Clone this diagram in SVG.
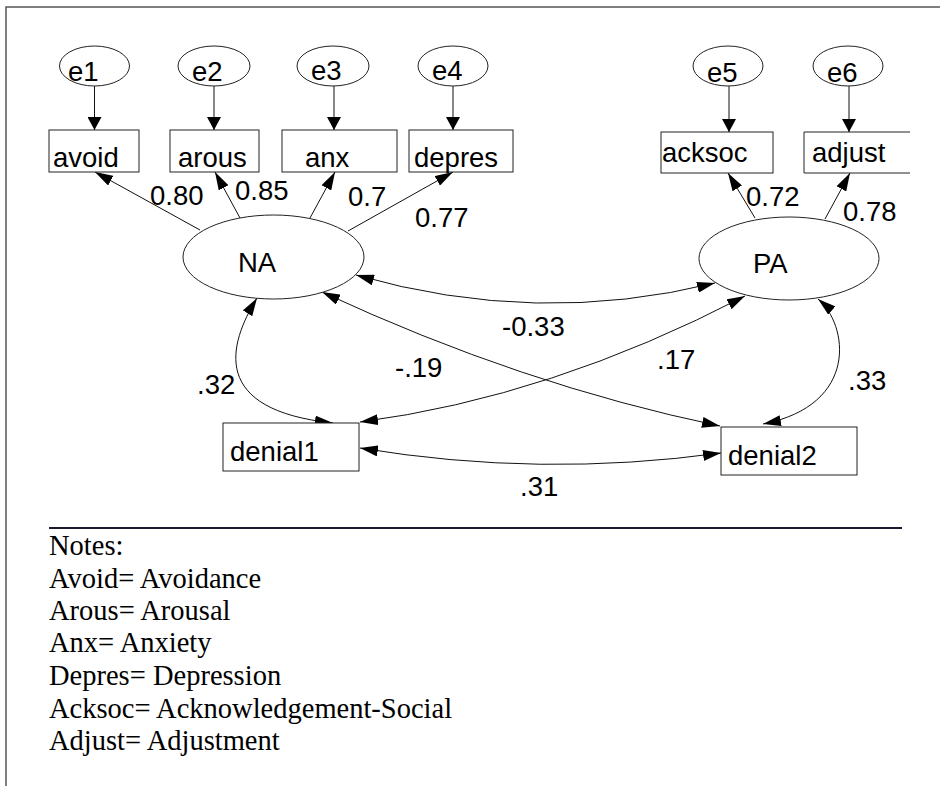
<svg xmlns="http://www.w3.org/2000/svg" width="949" height="786" viewBox="0 0 949 786">
<style>
.nd{fill:#fff;stroke:#222;stroke-width:1}
.t{font-family:"Liberation Sans",Arial,sans-serif;font-size:27.5px;fill:#000}
.n{font-family:"Liberation Serif","Times New Roman",serif;font-size:28.5px;fill:#000}
.c{fill:none;stroke:#111;stroke-width:1}
</style>
<defs>
<marker id="av" markerUnits="userSpaceOnUse" markerWidth="13" markerHeight="14" viewBox="0 0 13 14" refX="13" refY="7" orient="auto"><path d="M0,0 L13,7 L0,14 z" fill="#000"/></marker>
<marker id="ad" markerUnits="userSpaceOnUse" markerWidth="18" markerHeight="11" viewBox="0 0 18 11" refX="18" refY="5.5" orient="auto-start-reverse"><path d="M0,0 L18,5.5 L0,11 z" fill="#000"/></marker>
</defs>
<rect width="949" height="786" fill="#fff"/>
<g id="frame">
<path d="M6,786 V7 H940" fill="none" stroke="#555" stroke-width="1.5"/>
</g>
<g id="connectors">
<path class="c" d="M94.5,86 V130" marker-end="url(#av)"/>
<path class="c" d="M214,86 V130" marker-end="url(#av)"/>
<path class="c" d="M334,86 V130" marker-end="url(#av)"/>
<path class="c" d="M453,86 V130" marker-end="url(#av)"/>
<path class="c" d="M729,86 V132" marker-end="url(#av)"/>
<path class="c" d="M849,86 V132" marker-end="url(#av)"/>
<path class="c" d="M200,230 L95,172" marker-end="url(#ad)"/>
<path class="c" d="M240,218 L215,172" marker-end="url(#ad)"/>
<path class="c" d="M310,218 L335,172" marker-end="url(#ad)"/>
<path class="c" d="M348,231 L453,172" marker-end="url(#ad)"/>
<path class="c" d="M755,218 L728,173" marker-end="url(#ad)"/>
<path class="c" d="M825,219 L850,173" marker-end="url(#ad)"/>
<path class="c" d="M356,275 Q537,327 715,283" marker-start="url(#ad)" marker-end="url(#ad)"/>
<path class="c" d="M322,292 Q522,385 720,426" marker-start="url(#ad)" marker-end="url(#ad)"/>
<path class="c" d="M745,296 Q551,397 360,422" marker-start="url(#ad)" marker-end="url(#ad)"/>
<path class="c" d="M257,298 C228,345 210,410 333,423" marker-start="url(#ad)" marker-end="url(#ad)"/>
<path class="c" d="M818,299 C848,324 860,405 763,424" marker-start="url(#ad)" marker-end="url(#ad)"/>
<path class="c" d="M360,448 Q540,478 721,453" marker-start="url(#ad)" marker-end="url(#ad)"/>
</g>
<g id="e1"><ellipse class="nd" cx="94.5" cy="66" rx="35" ry="20"/><text class="t" x="68" y="81">e1</text></g>
<g id="e2"><ellipse class="nd" cx="214" cy="66" rx="36" ry="20"/><text class="t" x="192" y="81">e2</text></g>
<g id="e3"><ellipse class="nd" cx="333" cy="66" rx="36" ry="20"/><text class="t" x="311" y="80">e3</text></g>
<g id="e4"><ellipse class="nd" cx="453" cy="66" rx="35" ry="20"/><text class="t" x="432" y="80">e4</text></g>
<g id="e5"><ellipse class="nd" cx="728" cy="66" rx="35" ry="20"/><text class="t" x="707" y="82">e5</text></g>
<g id="e6"><ellipse class="nd" cx="848" cy="66" rx="35" ry="20"/><text class="t" x="827" y="82">e6</text></g>
<g id="avoid"><rect class="nd" x="49" y="130" width="90" height="42"/><text class="t" x="53" y="167">avoid</text></g>
<g id="arous"><rect class="nd" x="170" y="130" width="89" height="42"/><text class="t" x="178" y="167">arous</text></g>
<g id="anx"><rect class="nd" x="282" y="130" width="115" height="42"/><text class="t" x="305" y="167">anx</text></g>
<g id="depres"><rect class="nd" x="409" y="130" width="104" height="42"/><text class="t" x="414" y="167">depres</text></g>
<g id="acksoc"><rect class="nd" x="661" y="132" width="112" height="41"/><text class="t" x="662" y="162">acksoc</text></g>
<g id="adjust"><rect x="804" y="132" width="106" height="41" fill="#fff"/><path d="M910,132 H804 V173 H910" fill="none" stroke="#222" stroke-width="1"/><text class="t" x="812" y="162">adjust</text></g>
<g id="NA"><ellipse class="nd" cx="273.5" cy="257" rx="90.5" ry="42"/><text class="t" x="238" y="272">NA</text></g>
<g id="PA"><ellipse class="nd" cx="789" cy="258.5" rx="90" ry="41.5"/><text class="t" x="753" y="273">PA</text></g>
<g id="denial1"><rect class="nd" x="223" y="423" width="136" height="48"/><text class="t" x="230" y="461">denial1</text></g>
<g id="denial2"><rect class="nd" x="721" y="427" width="136" height="48"/><text class="t" x="728" y="465">denial2</text></g>
<g id="labels">
<text class="t" x="150" y="205">0.80</text>
<text class="t" x="235" y="200">0.85</text>
<text class="t" x="348" y="206">0.7</text>
<text class="t" x="415" y="227">0.77</text>
<text class="t" x="746" y="206">0.72</text>
<text class="t" x="843" y="221">0.78</text>
<text class="t" x="502" y="336">-0.33</text>
<text class="t" x="395" y="377">-.19</text>
<text class="t" x="197" y="394">.32</text>
<text class="t" x="657" y="369">.17</text>
<text class="t" x="848" y="390">.33</text>
<text class="t" x="520" y="496">.31</text>
</g>
<g id="notes">
<line x1="49" y1="528" x2="902" y2="528" stroke="#1a1a2e" stroke-width="2"/>
<text class="n" x="49" y="555">Notes:</text>
<text class="n" x="49" y="588">Avoid= Avoidance</text>
<text class="n" x="49" y="620">Arous= Arousal</text>
<text class="n" x="49" y="652">Anx= Anxiety</text>
<text class="n" x="49" y="685">Depres= Depression</text>
<text class="n" x="49" y="718">Acksoc= Acknowledgement-Social</text>
<text class="n" x="49" y="750">Adjust= Adjustment</text>
</g>
</svg>
